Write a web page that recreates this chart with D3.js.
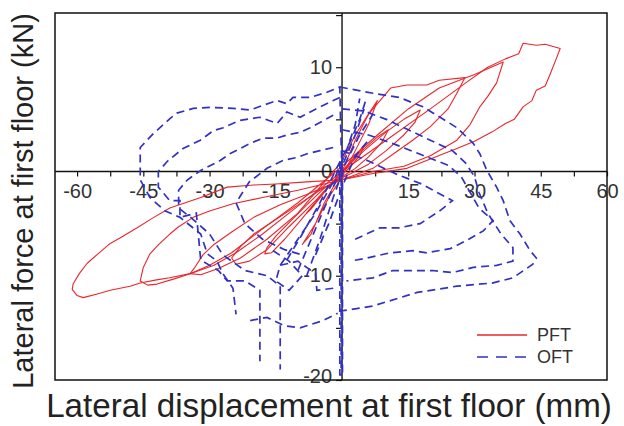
<!DOCTYPE html>
<html>
<head>
<meta charset="utf-8">
<script src="https://cdn.jsdelivr.net/npm/d3@7/dist/d3.min.js"></script>
<style>
  html, body { margin: 0; padding: 0; background: #fff; }
  svg { display: block; font-family: "Liberation Sans", Arial, sans-serif; }
</style>
</head>
<body>
<svg id="chart" width="624" height="426"></svg>
<script>
// ---- data: [displacement mm, force kN] ----
const xTicks = [-60, -45, -30, -15, 15, 30, 45, 60];
const yTicks = [10, 0, -10, -20];

// PFT hysteresis cycles (red, solid)
const pftCycle0 = [[0,0],[3,1.5],[5,2.5],[4,1.5],[2,0.5],[0,-0.3],[-3,-1.5],[-6,-3],[-8,-4],[-7,-3.6],[-4,-2],[0,0]];
const pftCycleS = [[0,0],[3,3],[6,5.5],[8,6.8],[6,4.5],[3,2],[0,-0.5],[-3,-2.5],[-6,-5],[-9,-7],[-7,-6],[-4,-3],[0,0]];
const pftCycle1 = [[0,0],[4,1.8],[8,3.3],[10.5,4],[9,2.8],[6,1.4],[3,0.3],[0,-0.5],[-4,-1.6],[-8,-3.2],[-12,-4.9],[-15,-6.2],[-17,-7.3],[-17.5,-7.9],[-16,-7.8],[-13,-6.5],[-9,-4.5],[-5,-2.4],[0,0]];
const pftCycle2 = [[0,0],[5,2],[10,3.8],[14,5],[17.7,5.9],[16.5,4.7],[14,3.5],[10,2],[6,0.7],[2,-0.2],[0,-0.6],[-5,-1.8],[-10,-3.2],[-15,-4.6],[-20,-6],[-23,-7.2],[-25,-8.3],[-24,-8.9],[-21,-8.6],[-17,-7.5],[-12,-5.3],[-6,-2.8],[0,0]];
const pftCycle3 = [[0,1],[3,3.5],[6,5.5],[11,8],[14.7,8.3],[19.2,8.3],[22,8.75],[27.8,9],[26,7.5],[24,6],[20,4.3],[16,3],[12,1.8],[7,0.3],[0,-0.8],[-8,-2.2],[-14,-3.2],[-20,-4.4],[-25,-5.8],[-29,-7],[-31.5,-8],[-33.5,-9.3],[-34.4,-9.8],[-32,-9.9],[-28,-9.3],[-23,-8.3],[-17,-6.5],[-10,-4],[0,1]];
const pftCycle4 = [[0,0.5],[8,3.5],[15,6],[22,8],[30,9.3],[36.5,10.5],[35,8.5],[33,7.2],[31.2,6.2],[29,4.5],[26,3],[20,1.5],[14,0.5],[7,0],[0,-0.8],[-10,-1.8],[-18,-2.5],[-24.7,-3.1],[-30,-3.8],[-33.7,-4.4],[-37,-5.3],[-39,-6],[-41.5,-7],[-43.5,-7.9],[-45,-9.2],[-45.7,-10.5],[-44,-10.9],[-41.9,-10.8],[-38,-10.3],[-34.4,-9.8],[-30,-9],[-25,-7.8],[-18,-5.5],[-10,-3],[0,0.5]];
const pftCycle5 = [[0,0],[10,3],[20,6],[28,8.5],[33,10],[37,10.8],[40,11.3],[41,12.3],[44,12.1],[46,12.2],[49.4,11.8],[48.5,10.8],[47,9.2],[46,8.2],[44,7.8],[43,6.8],[41,6.2],[39,5],[37,4.6],[34,3.8],[30,2.9],[26,2.2],[20,1.2],[14.7,0.3],[7,-0.2],[0,-0.8],[-8,-1],[-15,-1.2],[-20,-1.3],[-26,-1.5],[-32,-2.5],[-39,-3.5],[-43,-4.5],[-46.4,-5.4],[-50,-6.3],[-52.5,-6.9],[-55,-7.8],[-57.7,-8.8],[-59.5,-9.8],[-60.9,-10.8],[-61.1,-11.3],[-60,-11.9],[-58.6,-12.1],[-55,-11.7],[-52.5,-11.4],[-48,-11],[-45.7,-10.7],[-42,-10.4],[-39,-10.2],[-34.4,-9.8],[-29,-9],[-24,-7.8],[-18,-6],[-12,-4],[-6,-2],[0,0]];

// OFT traces (blue, dashed)
const oftLeft1 = [[0,0],[-0.3,4],[-0.5,8.1],[-3.4,7.6],[-7.2,7.1],[-11.1,7.1],[-12.5,6.5],[-14.7,6.8],[-17.9,6.35],[-20.8,5.9],[-24.7,6.05],[-29.9,6.15],[-33.7,6.05],[-37.4,5.6],[-38.9,5.1],[-42.8,3.6],[-45.7,2.3],[-45.7,-0.8],[-43.5,-2.5],[-40,-3.8],[-36.7,-4.4],[-32,-6],[-30.5,-7.9],[-28.3,-8.6],[-27,-9.8],[-24.7,-11.2],[-24,-13.7]];
const oftLeft2 = [[-0.5,7.1],[-2,6.8],[-5.7,6.05],[-9.5,5.2],[-12.5,5.7],[-14.7,4.6],[-18.6,5.2],[-23.1,4.9],[-26.9,4.2],[-29.2,3.9],[-32.1,3],[-36,2.2],[-39.5,1],[-41.6,0],[-41.6,-1.5],[-39,-2.8],[-36.7,-2.8],[-36.7,-4.4],[-33,-4],[-32,-8.5],[-28,-9.5],[-26,-10.5],[-22,-10.5],[-18.6,-11.4],[-18.6,-18.2]];
const oftLeft3 = [[-2,5.4],[-5,4.7],[-7.2,4.2],[-9.5,3.75],[-12.5,3.5],[-14.7,3.2],[-17.9,3.2],[-20.8,2.7],[-25.4,1.7],[-27.6,1.05],[-32,0.1],[-35,-0.8],[-37,-1.8],[-37,-3.5],[-34,-4.5],[-30,-6],[-27,-8],[-22,-9.5],[-17,-10],[-14,-11],[-14,-19]];
const oftLeft4 = [[-2,2.3],[-5,2],[-7.9,1.7],[-10.2,1.35],[-13.4,1.05],[-17,0.3],[-21,-1],[-24,-3],[-22,-5],[-18,-6.5],[-13,-7.5],[-9,-8]];
const oftLowLeft = [[-20.8,-14.3],[-17,-14],[-13,-14.8],[-9.5,-15],[-4.3,-14.3],[-1,-13.6]];
const oftCurl = [[-15.6,-7.6],[-12,-8.6],[-9,-10],[-12,-11.4],[-15,-10.5],[-14,-9],[-10,-8.6],[-6,-9.8],[-5.7,-11.4],[-2,-11.2]];
const oftRight1 = [[-0.5,8.1],[7,7.5],[13,7.1],[18.3,6.2],[22.2,5.2],[26,4.2],[29.7,2.7],[31.2,1.7],[32.8,0.1],[35,-1.5],[36.5,-2.8],[38,-4.7],[40.3,-6],[42.6,-7.6],[44,-8.3],[43.2,-8.9],[38.7,-10.2],[34,-10.7],[26,-11],[17,-11.6],[7,-12.9],[-0.5,-13.4]];
const oftRight2 = [[0,6],[5,5.8],[10,5],[15,4],[20,3],[25,2],[28,0.8],[30,-0.5],[31,-2],[33,-4],[36,-6],[38.7,-7.3],[38.7,-8.6],[35,-9],[29.7,-9.2],[25,-9.7],[20.6,-9.5],[16,-9.5],[11.5,-9.5],[7,-10.2],[1,-10.5]];
const oftRight3 = [[0,4],[6,3.5],[12,2.6],[18,1.6],[24,0.6],[27,-0.5],[29,-2],[31,-3.5],[34.2,-4.7],[32,-5.7],[28.3,-6.6],[24.5,-7.4],[19.2,-7.8],[16,-7.6],[10.9,-7.8],[5.7,-8.3],[1.8,-8.6]];
const oftRight4 = [[0,2],[6,1],[12,-0.2],[18,-1.2],[25,-2.8],[22.2,-3.75],[17.7,-5],[13,-5.4],[8.6,-5.4],[2.5,-6.6]];
const oftBand1 = [[-12.5,-8.5],[-9,-6],[-5,-3],[-1,0.5],[2,3],[4,5],[5.5,7]];
const oftBand2 = [[-10,-9.5],[-7,-6.5],[-3,-2.5],[0,0.5],[3,3.5],[5,6]];
const oftBand3 = [[-8,-10],[-5,-6.5],[-2,-2.5],[1,1],[4,3.5],[7,5.5]];
const oftBand4 = [[-14,-9],[-10,-6.5],[-6,-4],[-2,-1],[1,2],[3,4.5],[4,7]];
const oftBand5 = [[-6,-8],[-3,-5],[0,-1.5],[3,1.5],[6,3]];
const oftStemA = [[-0.5,1],[-0.5,-19.6]];
const oftStemB = [[-0.2,0.6],[-0.2,-19.6]];
const oftStemC = [[0.1,0.2],[0.1,-19.4]];

const pftSeries = [pftCycle0, pftCycleS, pftCycle1, pftCycle2, pftCycle3, pftCycle4, pftCycle5];
const oftSeries = [oftLeft1, oftLeft2, oftLeft3, oftLeft4, oftLowLeft, oftCurl,
                   oftRight1, oftRight2, oftRight3, oftRight4,
                   oftBand1, oftBand2, oftBand3, oftBand4, oftBand5,
                   oftStemA, oftStemB, oftStemC];

const red = "#e8262c";
const blue = "#3232c2";

const svg = d3.select("#chart");
const frame = { left: 55, right: 607, top: 13, bottom: 380 };

const x = d3.scaleLinear().domain([-65, 60]).range([frame.left, frame.right]);
const y = d3.scaleLinear().domain([-20, 15.2]).range([frame.bottom, frame.top]);

// zero-crossing axes with ticks
const xAxis = d3.axisBottom(x)
  .tickValues(d3.range(-60, 60.1, 7.5))
  .tickSize(5)
  .tickFormat(d => xTicks.includes(d) ? d : "");
const yAxis = d3.axisLeft(y)
  .tickValues(d3.range(-20, 15.1, 5))
  .tickSize(6)
  .tickFormat(d => yTicks.includes(d) ? d : "");

const gx = svg.append("g").attr("transform", `translate(0,${y(0)})`).call(xAxis);
const gy = svg.append("g").attr("transform", `translate(${x(0)},0)`).call(yAxis);
gx.select(".domain").remove();
gy.select(".domain").remove();
[gx, gy].forEach(g => {
  g.selectAll("line").attr("stroke", "#111").attr("stroke-width", 1.2);
  g.selectAll("text").attr("fill", "#333").style("font-size", "20px")
    .style("font-family", "'Liberation Sans', Arial, sans-serif");
});
gx.selectAll("text").attr("dy", "0.95em");
gy.selectAll("text").attr("dx", "-0.05em").attr("dy", d => d === -20 ? "0.1em" : "0.3em");

svg.append("line").attr("x1", frame.left).attr("x2", frame.right)
  .attr("y1", y(0)).attr("y2", y(0)).attr("stroke", "#111").attr("stroke-width", 1.4);
svg.append("line").attr("x1", x(0)).attr("x2", x(0))
  .attr("y1", frame.top).attr("y2", frame.bottom).attr("stroke", "#111").attr("stroke-width", 1.4);

const line = d3.line().x(d => x(d[0])).y(d => y(d[1]));

svg.append("g").selectAll("path").data(pftSeries).join("path")
  .attr("d", line).attr("fill", "none")
  .attr("stroke", red).attr("stroke-width", 1.1).attr("stroke-linejoin", "round");

svg.append("g").selectAll("path").data(oftSeries).join("path")
  .attr("d", line).attr("fill", "none")
  .attr("stroke", blue).attr("stroke-width", 1.7)
  .attr("stroke-dasharray", "8,5");

// frame
svg.append("rect")
  .attr("x", frame.left).attr("y", frame.top)
  .attr("width", frame.right - frame.left).attr("height", frame.bottom - frame.top)
  .attr("fill", "none").attr("stroke", "#111").attr("stroke-width", 1.5);

// legend
const legend = svg.append("g").attr("transform", "translate(477,335)");
legend.append("line").attr("x1", 0).attr("x2", 50).attr("stroke", red).attr("stroke-width", 1.3);
legend.append("line").attr("x1", 0).attr("x2", 50).attr("y1", 22).attr("y2", 22)
  .attr("stroke", blue).attr("stroke-width", 1.7).attr("stroke-dasharray", "11,8");
legend.append("text").attr("x", 60).attr("y", 0).attr("dy", "0.35em")
  .style("font-size", "18px").attr("fill", "#333").text("PFT");
legend.append("text").attr("x", 60).attr("y", 22).attr("dy", "0.35em")
  .style("font-size", "18px").attr("fill", "#333").text("OFT");

// axis titles, fitted to the width they take in the picture
function fitText(sel, target) {
  const w = sel.node().getComputedTextLength();
  const fs = parseFloat(sel.style("font-size"));
  sel.style("font-size", (fs * target / w) + "px");
}
const xTitle = svg.append("text").attr("x", 329).attr("y", 417)
  .attr("text-anchor", "middle").style("font-size", "26px").attr("fill", "#222")
  .text("Lateral displacement at first floor (mm)");
fitText(xTitle, 566);
const yTitle = svg.append("text")
  .attr("transform", "translate(33,201) rotate(-90)")
  .attr("text-anchor", "middle").style("font-size", "26px").attr("fill", "#222")
  .text("Lateral force at first floor (kN)");
fitText(yTitle, 376);
</script>
</body>
</html>
